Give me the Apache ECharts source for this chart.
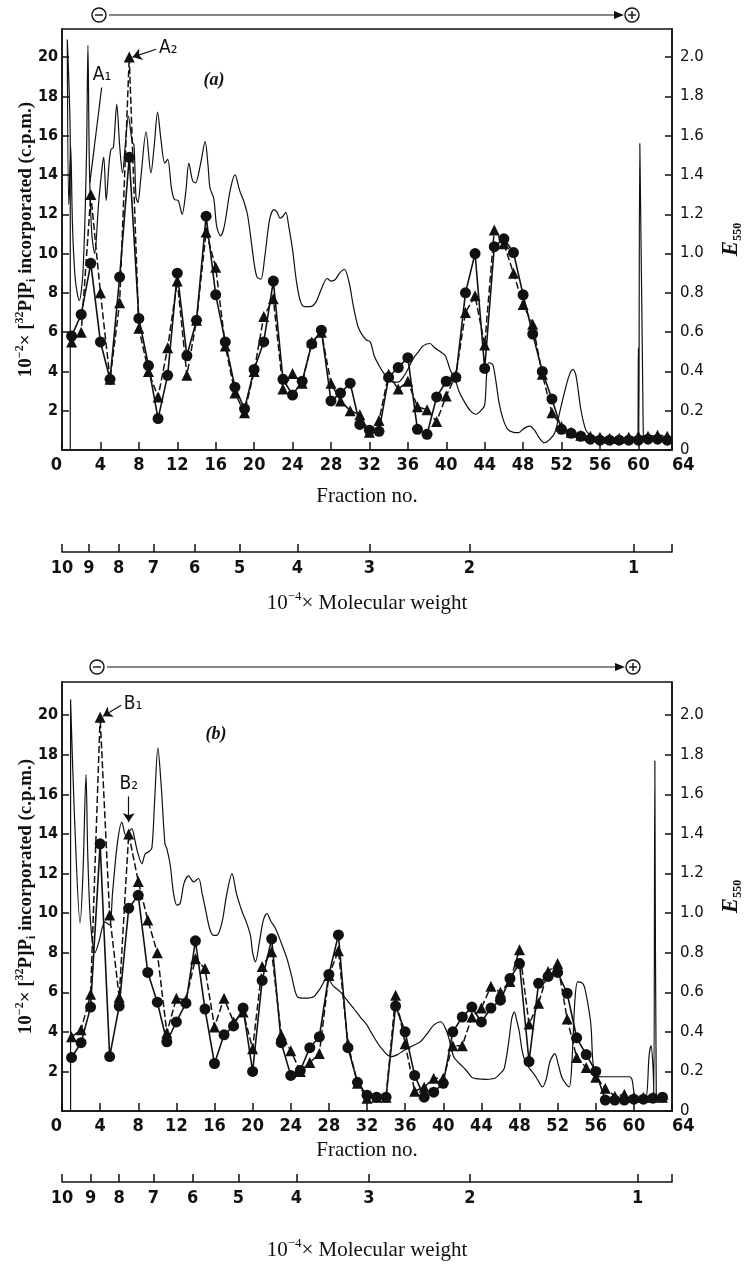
<!DOCTYPE html>
<html>
<head>
<meta charset="utf-8">
<script src="https://cdn.jsdelivr.net/npm/echarts@6/dist/echarts.min.js"></script>
<style>
  html, body { margin: 0; padding: 0; background: #fff; }
  #chart { width: 746px; height: 1271px; }
</style>
</head>
<body>
<div id="chart"></div>
<script>
// fraction numbers (x)
const fractionNo = [1, 2, 3, 4, 5, 6, 7, 8, 9, 10, 11, 12, 13, 14, 15, 16, 17, 18, 19, 20,
  21, 22, 23, 24, 25, 26, 27, 28, 29, 30, 31, 32, 33, 34, 35, 36, 37, 38, 39, 40,
  41, 42, 43, 44, 45, 46, 47, 48, 49, 50, 51, 52, 53, 54, 55, 56, 57, 58, 59, 60, 61, 62, 63]

// panel (a): 10^-2 x c.p.m., circles (solid) and triangles (dashed)
const aCircles = [5.8, 6.9, 9.5, 5.5, 3.6, 8.8, 14.9, 6.7, 4.3, 1.6,
  3.8, 9.0, 4.8, 6.6, 11.9, 7.9, 5.5, 3.2, 2.1, 4.1,
  5.5, 8.6, 3.6, 2.8, 3.5, 5.4, 6.1, 2.5, 2.9, 3.4,
  1.3, 1.0, 0.95, 3.7, 4.2, 4.7, 1.05, 0.8, 2.7, 3.5,
  3.7, 8.0, 10.0, 4.15, 10.35, 10.75, 10.05, 7.9, 5.9, 4.0,
  2.6, 1.05, 0.85, 0.7, 0.55, 0.5, 0.5, 0.5, 0.5, 0.5,
  0.55, 0.55, 0.5]
const aTriangles = [5.5, 6.0, 13.0, 8.0, 3.6, 7.5, 20.0, 6.2, 4.0, 2.7,
  5.2, 8.6, 3.8, 6.6, 11.1, 9.3, 5.3, 2.9, 1.9, 4.0,
  6.8, 7.7, 3.1, 3.9, 3.4, 5.5, 6.0, 3.4, 2.5, 2.0,
  1.8, 0.9, 1.5, 3.85, 3.1, 3.5, 2.2, 2.05, 1.45, 2.75,
  3.8, 7.0, 7.85, 5.35, 11.2, 10.5, 9.0, 7.4, 6.4, 3.85,
  1.9, 1.2, 0.9, 0.75, 0.7, 0.65, 0.6, 0.6, 0.65, 0.7,
  0.7, 0.75, 0.7]
// panel (a): E550 trace [fraction, E550]
const aE550 = [[0.86, 0], [0.86, 1.56], [0.55, 2.09], [0.7, 1.25], [0.9, 1.55], [1.1, 1.13], [1.4, 0.86], [1.8, 0.76],
  [2.2, 0.92], [2.55, 1.5], [2.7, 2.06], [2.85, 1.45], [3.1, 1.1], [3.4, 1.0], [3.8, 1.25], [4.2, 1.45], [4.35, 1.49],
  [4.6, 1.27], [4.9, 1.46], [5.1, 1.53], [5.35, 1.54], [5.7, 1.76], [6.0, 1.55], [6.3, 1.41], [6.6, 1.56], [6.9, 1.7],
  [7.3, 1.57], [7.5, 1.55], [7.7, 1.29], [7.9, 1.26], [8.2, 1.38], [8.75, 1.62], [9.26, 1.41], [9.6, 1.55], [9.95, 1.72],
  [10.3, 1.58], [10.7, 1.46], [11.0, 1.48], [11.4, 1.33], [11.7, 1.275], [12.1, 1.27], [12.5, 1.2], [12.9, 1.32],
  [13.2, 1.46], [13.6, 1.37], [13.9, 1.36], [14.4, 1.45], [14.9, 1.57], [15.2, 1.45], [15.4, 1.335], [15.8, 1.28],
  [16.1, 1.14], [16.5, 1.09], [16.9, 1.14], [17.5, 1.32], [18.0, 1.4], [18.5, 1.32], [18.9, 1.27], [19.3, 1.2],
  [19.6, 1.1], [20.0, 0.95], [20.3, 0.88], [20.7, 0.87], [21.1, 0.98], [21.6, 1.17], [22.05, 1.224], [22.4, 1.21],
  [22.7, 1.18], [23.0, 1.19], [23.3, 1.21], [23.6, 1.14], [24.0, 1.02], [24.4, 0.86], [24.8, 0.76], [25.2, 0.73],
  [25.8, 0.73], [26.4, 0.75], [27.0, 0.82], [27.6, 0.873], [28.0, 0.86], [28.4, 0.865], [28.9, 0.9], [29.4, 0.92],
  [29.9, 0.85], [30.3, 0.74], [30.8, 0.63], [31.2, 0.59], [31.7, 0.56], [32.1, 0.55], [32.5, 0.48], [33.0, 0.43],
  [33.5, 0.39], [34.0, 0.36], [34.5, 0.345], [35.0, 0.345], [35.5, 0.37], [36.0, 0.41], [36.5, 0.46], [37.1, 0.5],
  [37.6, 0.53], [38.3, 0.542], [38.8, 0.52], [39.4, 0.5], [39.9, 0.48], [40.4, 0.41], [40.9, 0.36], [41.4, 0.29],
  [41.9, 0.245], [42.5, 0.2], [43.1, 0.182], [43.6, 0.2], [44.0, 0.23], [44.2, 0.38], [44.4, 0.444], [44.7, 0.44],
  [44.9, 0.427], [45.2, 0.34], [45.5, 0.24], [45.9, 0.16], [46.4, 0.105], [47.0, 0.09], [47.5, 0.088], [48.1, 0.11],
  [48.7, 0.122], [49.2, 0.1], [49.7, 0.06], [50.2, 0.037], [50.8, 0.055], [51.3, 0.088], [51.8, 0.19], [52.3, 0.292],
  [52.8, 0.38], [53.2, 0.41], [53.5, 0.38], [54.0, 0.21], [54.4, 0.12], [54.7, 0.088], [55.2, 0.07], [56, 0.062],
  [57, 0.06], [58, 0.058], [59, 0.055], [59.9, 0.055], [60.0, 0.52], [60.05, 0.06], [60.15, 1.56], [60.5, 0.12],
  [60.6, 0.05], [61.5, 0.05], [62.5, 0.045], [63.4, 0.045]]

// panel (b)
const bCircles = [2.7, 3.45, 5.25, 13.5, 2.75, 5.3, 10.25, 10.9, 7.0, 5.5,
  3.5, 4.5, 5.45, 8.6, 5.15, 2.4, 3.85, 4.3, 5.2, 2.0,
  6.6, 8.7, 3.45, 1.8, 2.05, 3.2, 3.75, 6.9, 8.9, 3.2,
  1.45, 0.8, 0.7, 0.7, 5.3, 4.0, 1.8, 0.7, 0.95, 1.4,
  4.0, 4.75, 5.25, 4.5, 5.2, 5.6, 6.7, 7.45, 2.5, 6.45,
  6.8, 7.0, 5.95, 3.7, 2.85, 2.0, 0.55, 0.55, 0.55, 0.6,
  0.6, 0.65, 0.7]
const bTriangles = [3.75, 4.1, 5.9, 19.9, 9.9, 5.75, 14.0, 11.6, 9.65, 8.0,
  3.95, 5.7, 5.6, 7.7, 7.2, 4.25, 5.7, 4.5, 5.0, 3.15,
  7.3, 8.05, 3.85, 3.05, 2.0, 2.45, 2.9, 6.85, 8.1, 3.4,
  1.4, 0.65, 0.7, 0.7, 5.85, 3.4, 1.0, 1.2, 1.65, 1.65,
  3.3, 3.3, 4.75, 5.2, 6.3, 6.0, 6.55, 8.15, 4.4, 5.45,
  7.05, 7.45, 4.65, 2.7, 2.2, 1.7, 1.15, 0.75, 0.85, 0.7,
  0.7, 0.7, 0.7]
const bE550 = [[0.9, 0], [0.9, 2.08], [1.3, 1.5], [1.9, 0.95], [2.2, 1.2], [2.52, 1.7], [2.7, 1.3], [3.0, 0.95],
  [3.47, 0.8], [3.9, 0.86], [4.5, 0.956], [5.0, 0.94], [5.3, 1.1], [5.8, 1.35], [6.28, 1.46], [6.7, 1.39], [7.0, 1.41],
  [7.33, 1.427], [7.6, 1.38], [7.92, 1.31], [8.38, 1.25], [8.73, 1.3], [9.1, 1.31], [9.43, 1.33], [9.7, 1.55],
  [10.06, 1.835], [10.4, 1.65], [10.8, 1.35], [11.0, 1.326], [11.36, 1.242], [11.7, 1.1], [12.06, 1.04], [12.4, 1.05],
  [12.8, 1.15], [13.28, 1.188], [13.8, 1.158], [14.33, 1.175], [14.7, 1.1], [15.04, 1.023], [15.5, 0.92], [15.9, 0.888],
  [16.3, 0.89], [16.8, 0.956], [17.3, 1.1], [17.84, 1.2], [18.3, 1.1], [18.9, 1.007], [19.3, 0.96], [19.77, 0.888],
  [20.0, 0.8], [20.3, 0.754], [20.7, 0.85], [21.1, 0.96], [21.5, 0.998], [21.9, 0.96], [22.4, 0.922], [23.0, 0.85],
  [23.6, 0.771], [24.1, 0.68], [24.7, 0.577], [25.5, 0.57], [26.4, 0.577], [27.1, 0.62], [27.8, 0.67], [28.5, 0.63],
  [29.2, 0.602], [29.9, 0.56], [30.6, 0.518], [31.3, 0.475], [32.0, 0.434], [32.4, 0.4], [33.4, 0.324], [34.5, 0.274],
  [35.2, 0.285], [35.9, 0.307], [36.8, 0.33], [37.6, 0.35], [38.3, 0.39], [39.0, 0.434], [39.75, 0.451], [40.3, 0.41],
  [40.6, 0.366], [41.1, 0.274], [41.7, 0.24], [42.4, 0.206], [43.0, 0.17], [43.4, 0.164], [44.5, 0.16], [45.35, 0.164],
  [46.0, 0.19], [46.4, 0.215], [46.9, 0.36], [47.2, 0.47], [47.46, 0.501], [47.7, 0.46], [47.98, 0.4], [48.3, 0.3],
  [48.7, 0.24], [49.6, 0.181], [50.0, 0.15], [50.4, 0.122], [50.8, 0.16], [51.2, 0.25], [51.7, 0.29], [52.1, 0.23],
  [52.5, 0.164], [53.2, 0.122], [53.5, 0.25], [53.8, 0.55], [54.1, 0.653], [54.5, 0.65], [54.8, 0.63], [55.2, 0.535],
  [55.5, 0.43], [55.7, 0.249], [56.0, 0.18], [56.6, 0.173], [58, 0.173], [59.5, 0.173], [59.8, 0.16], [60.1, 0.07],
  [60.4, 0.063], [61.2, 0.06], [61.6, 0.282], [61.8, 0.33], [62.0, 0.23], [62.1, 0.08], [62.2, 1.77], [62.35, 0.09],
  [62.6, 0.06], [63.6, 0.06]]

// molecular weight scale (10^-4 x MW) and its position in fraction units
const mwLabels = [10, 9, 8, 7, 6, 5, 4, 3, 2, 1]
const mwPosA = [0, 2.8, 5.9, 9.5, 13.8, 18.5, 24.5, 32.0, 42.4, 59.5]
const mwPosB = [0, 3.0, 6.0, 9.6, 13.7, 18.5, 24.6, 32.2, 42.8, 60.4]

const INK = '#111'
const SERIF = '"Liberation Serif", "DejaVu Serif", serif'
const NARROW = '"Liberation Sans Narrow", "DejaVu Sans Condensed", sans-serif'
const line = { color: INK, width: 1.5 }

const chart = echarts.init(document.getElementById('chart'))

function pairs(values) {
  return fractionNo.map((f, i) => [f, values[i]])
}

function fractionAxis(gridIndex, max, nameGap) {
  return {
    type: 'value', gridIndex, min: 0, max, interval: 4,
    axisLine: { show: true, lineStyle: line },
    axisTick: { inside: true, length: 8, lineStyle: line },
    axisLabel: { interval: 0, margin: 6, color: INK, fontFamily: NARROW, fontWeight: 'bold', fontSize: 18,
      alignMinLabel: 'right', alignMaxLabel: 'left',
      formatter: v => String(Math.round(v)) },
    splitLine: { show: false },
    name: 'Fraction no.', nameLocation: 'middle', nameGap, nameMoveOverlap: false,
    nameTextStyle: { fontFamily: SERIF, fontSize: 21, color: INK },
  }
}

function mwAxis(gridIndex, max, pos, nameGap) {
  return {
    type: 'value', gridIndex, min: 0, max, position: 'bottom',
    axisLine: { show: true, lineStyle: line },
    axisTick: { inside: true, length: 8, lineStyle: line, customValues: pos.concat([max]) },
    axisLabel: { customValues: pos, margin: 7, color: INK, fontFamily: NARROW, fontWeight: 'bold', fontSize: 18,
      formatter: v => {
        const i = pos.findIndex(p => Math.abs(p - v) < 1e-6)
        return i < 0 ? '' : String(mwLabels[i])
      } },
    splitLine: { show: false },
    name: '{n|10}{s|−4}{n|× Molecular weight}', nameLocation: 'middle', nameGap, nameMoveOverlap: false,
    nameTextStyle: {
      rich: {
        n: { fontFamily: SERIF, fontSize: 21, color: INK, lineHeight: 26 },
        s: { fontFamily: SERIF, fontSize: 13, color: INK, lineHeight: 13, verticalAlign: 'top' },
      },
    },
  }
}

function cpmAxis(gridIndex, max) {
  return {
    type: 'value', gridIndex, min: 0, max, interval: 2,
    axisLine: { show: true, lineStyle: line },
    axisTick: { inside: true, length: 7, lineStyle: line },
    axisLabel: { showMinLabel: false, showMaxLabel: false, margin: 4, color: INK, fontFamily: NARROW,
      fontWeight: 'bold', fontSize: 16 },
    splitLine: { show: false },
    name: '{n|10}{s|−2}{n|× [}{s|32}{n|P]P}{b|i}{n| incorporated (c.p.m.)}',
    nameLocation: 'middle', nameRotate: 90, nameGap: 24, nameMoveOverlap: false,
    nameTextStyle: {
      rich: {
        n: { fontFamily: SERIF, fontWeight: 'bold', fontSize: 19, color: INK, lineHeight: 24 },
        s: { fontFamily: SERIF, fontWeight: 'bold', fontSize: 12, color: INK, lineHeight: 12, verticalAlign: 'top' },
        b: { fontFamily: SERIF, fontWeight: 'bold', fontSize: 12, color: INK, lineHeight: 12, verticalAlign: 'bottom' },
      },
    },
  }
}

function e550Axis(gridIndex, max) {
  return {
    type: 'value', gridIndex, position: 'right', min: 0, max, interval: 0.2,
    axisLine: { show: true, lineStyle: line },
    axisTick: { inside: true, length: 7, lineStyle: line },
    axisLabel: { showMaxLabel: false, margin: 8, color: INK, fontFamily: '"DejaVu Sans", sans-serif',
      fontSize: 15, formatter: v => (v < 1e-9 ? '0' : v.toFixed(1)) },
    splitLine: { show: false },
    name: '{e|E}{s|550}', nameLocation: 'middle', nameRotate: 90, nameGap: 46, nameMoveOverlap: false,
    nameTextStyle: {
      rich: {
        e: { fontFamily: SERIF, fontStyle: 'italic', fontWeight: 'bold', fontSize: 23, color: INK, lineHeight: 26 },
        s: { fontFamily: SERIF, fontWeight: 'bold', fontSize: 12, color: INK, lineHeight: 12, verticalAlign: 'bottom' },
      },
    },
  }
}

function hiddenY(gridIndex) {
  return { type: 'value', gridIndex, show: false, min: 0, max: 1 }
}

function e550Series(x, y, data) {
  return {
    type: 'line', xAxisIndex: x, yAxisIndex: y, data, showSymbol: false, z: 2, smooth: 0.3,
    lineStyle: { color: INK, width: 1.2 }, itemStyle: { color: INK },
  }
}

function circleSeries(x, y, values) {
  return {
    type: 'line', xAxisIndex: x, yAxisIndex: y, data: pairs(values), z: 4,
    symbol: 'circle', symbolSize: 11, lineStyle: { color: INK, width: 1.6 }, itemStyle: { color: INK },
  }
}

function triangleSeries(x, y, values, notes) {
  return {
    type: 'line', xAxisIndex: x, yAxisIndex: y, data: pairs(values), z: 3,
    symbol: 'triangle', symbolSize: 11, lineStyle: { color: INK, width: 1.5, type: [7, 3] },
    itemStyle: { color: INK },
    markLine: {
      silent: true, symbol: ['none', 'arrow'], symbolSize: 9,
      lineStyle: { color: INK, width: 1.2, type: 'solid' },
      label: { show: true, position: 'start', distance: 3, formatter: '{b}', color: INK,
        fontFamily: NARROW, fontSize: 19 },
      data: notes,
    },
  }
}

// electrode arrow: minus on the left, plus on the right
function electrodes(y, xMinus, xPlus) {
  const ring = { fill: '#fff', stroke: INK, lineWidth: 1.4 }
  const bar = { stroke: INK, lineWidth: 1.4 }
  return [
    { type: 'circle', shape: { cx: xMinus, cy: y, r: 7 }, style: ring },
    { type: 'line', shape: { x1: xMinus - 4, y1: y, x2: xMinus + 4, y2: y }, style: bar },
    { type: 'line', shape: { x1: xMinus + 10, y1: y, x2: xPlus - 14, y2: y }, style: { stroke: INK, lineWidth: 1.1 } },
    { type: 'polygon', shape: { points: [[xPlus - 18, y - 4], [xPlus - 8, y], [xPlus - 18, y + 4]] }, style: { fill: INK } },
    { type: 'circle', shape: { cx: xPlus, cy: y, r: 7 }, style: ring },
    { type: 'line', shape: { x1: xPlus - 4, y1: y, x2: xPlus + 4, y2: y }, style: bar },
    { type: 'line', shape: { x1: xPlus, y1: y - 4, x2: xPlus, y2: y + 4 }, style: bar },
  ]
}

function panelTag(text, x, y) {
  return { type: 'text', x, y, style: { text, fill: INK, font: 'italic bold 18px ' + SERIF, align: 'center', verticalAlign: 'middle' } }
}

const aNotes = [
  [{ name: 'A₁', coord: [4.13, 18.45], symbol: 'none' }, { coord: [2.9, 13.6], symbol: 'none' }],
  [{ name: 'A₂', coord: [9.8, 20.4] }, { coord: [7.35, 20.0] }],
]
const bNotes = [
  [{ name: 'B₁', coord: [6.2, 20.5] }, { coord: [4.3, 19.95] }],
  [{ name: 'B₂', coord: [7.0, 15.9] }, { coord: [7.0, 14.6] }],
]

const frame = { show: true, borderColor: INK, borderWidth: 1.5, backgroundColor: 'transparent', outerBoundsMode: 'none' }

const option = {
  animation: false,
  backgroundColor: '#fff',
  grid: [
    { ...frame, left: 62, top: 29, width: 610, height: 421 },
    { left: 62, top: 540, width: 610, height: 12, outerBoundsMode: 'none' },
    { ...frame, left: 62, top: 682, width: 610, height: 429 },
    { left: 62, top: 1170, width: 610, height: 12, outerBoundsMode: 'none' },
  ],
  xAxis: [
    fractionAxis(0, 63.5, 36),
    mwAxis(1, 63.5, mwPosA, 38),
    fractionAxis(2, 64, 29),
    mwAxis(3, 64, mwPosB, 55),
  ],
  yAxis: [
    cpmAxis(0, 21.43),
    e550Axis(0, 2.143),
    hiddenY(1),
    cpmAxis(2, 21.68),
    e550Axis(2, 2.168),
    hiddenY(3),
  ],
  series: [
    e550Series(0, 1, aE550),
    triangleSeries(0, 0, aTriangles, aNotes),
    circleSeries(0, 0, aCircles),
    e550Series(2, 4, bE550),
    triangleSeries(2, 3, bTriangles, bNotes),
    circleSeries(2, 3, bCircles),
  ],
  graphic: [
    ...electrodes(15, 99, 632),
    ...electrodes(667, 97, 633),
    panelTag('(a)', 214, 80),
    panelTag('(b)', 216, 734),
  ],
}

chart.setOption(option)
window.addEventListener('resize', () => chart.resize())
</script>
</body>
</html>
